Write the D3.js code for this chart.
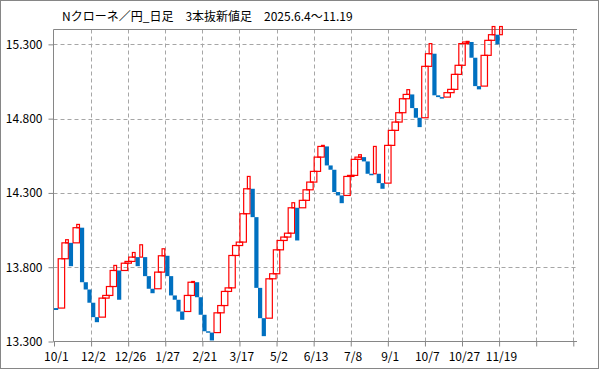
<!DOCTYPE html>
<html><head><meta charset="utf-8">
<script src="https://cdn.jsdelivr.net/npm/d3@7"></script>
<style>body{margin:0;background:#fff}svg{display:block}text{font-family:"Noto Sans CJK JP","Noto Sans",sans-serif}</style>
</head><body><div id="c"></div>
<script>
const title = "Nクローネ／円_日足　3本抜新値足　2025.6.4〜11.19";
const firstOpen = 13.525;
const closes = [13.512,13.857,13.964,13.985,13.807,14.066,14.088,13.699,13.650,13.561,
13.464,13.430,13.592,13.610,13.670,13.778,13.812,13.581,13.827,13.839,
13.868,13.899,13.807,13.951,13.740,13.655,13.625,13.767,13.877,13.924,
13.740,13.610,13.581,13.502,13.446,13.610,13.699,13.704,13.598,13.480,
13.369,13.360,13.307,13.493,13.542,13.637,13.661,13.879,13.946,13.969,
14.160,14.328,14.411,14.137,13.661,13.457,13.336,13.722,13.756,13.917,
13.980,14.003,14.029,14.200,14.234,13.980,14.250,14.321,14.373,14.445,
14.541,14.613,14.620,14.485,14.456,14.306,14.283,14.231,14.411,14.418,
14.526,14.541,14.557,14.512,14.429,14.425,14.613,14.366,14.328,14.620,
14.721,14.777,14.840,14.934,14.963,14.995,14.871,14.806,14.743,15.152,
15.237,15.305,14.957,14.945,14.941,14.975,14.997,15.098,15.159,15.305,
15.316,15.320,15.210,15.019,14.997,15.226,15.327,15.365,15.420,15.300,15.420];
const categoryCount = 141;
const dateLabels = ["10/1","12/2","12/26","1/27","2/21","3/17","5/2","6/13","7/8","9/1","10/7","10/27","11/19"];
const yTicks = [13.3,13.8,14.3,14.8,15.3];

const bars = [];
let prevOpen = firstOpen, prevClose = null, prevUp = null;
closes.forEach((c,i)=>{
  let open;
  if(i===0){ open = firstOpen; }
  else {
    const upMove = c > prevClose;
    open = (upMove === prevUp) ? prevClose : prevOpen;
  }
  const up = c > open;
  bars.push({i, open, close:c, up});
  prevOpen = open; prevClose = c; prevUp = up;
});
bars.forEach((d,i)=>{ d.nextUp = i+1<bars.length && bars[i+1].up; });

const W=599,H=369;
const svg=d3.select("#c").append("svg").attr("width",W).attr("height",H);
svg.append("rect").attr("x",0.5).attr("y",0.5).attr("width",W-1).attr("height",H-1)
  .attr("fill","#fff").attr("stroke","#868686");

const pL=53.5, pR=577, pT=29.5, pB=341.5;
const x=d3.scaleBand().domain(d3.range(categoryCount)).range([54,577]).padding(0);
const xb=d3.scaleLinear().domain([0,categoryCount]).range([54,577]);
const y=d3.scaleLinear().domain([13.3,15.4]).range([pB,pT]);
const step=x.bandwidth();

const g=svg.append("g");
g.selectAll("line.h").data(yTicks.filter(d=>d>13.3)).join("line")
  .attr("x1",pL).attr("x2",pR).attr("y1",d=>Math.round(y(d))+0.5).attr("y2",d=>Math.round(y(d))+0.5)
  .attr("stroke","#a6a6a6").attr("stroke-dasharray","4,3");
g.selectAll("line.v").data(d3.range(10,categoryCount,10)).join("line")
  .attr("x1",d=>Math.round(xb(d))+0.5).attr("x2",d=>Math.round(xb(d))+0.5).attr("y1",pT).attr("y2",pB)
  .attr("stroke","#a6a6a6").attr("stroke-dasharray","4,3");
svg.append("line").attr("x1",pL).attr("x2",pR).attr("y1",pT).attr("y2",pT).attr("stroke","#868686");

const ya=svg.append("g").attr("transform",`translate(${pL},0)`)
  .call(d3.axisLeft(y).tickValues(yTicks).tickFormat(d3.format(".3f")).tickSize(5).tickPadding(6));
ya.select(".domain").attr("stroke","#868686").attr("d",`M0,${pT}V${pB}`);
ya.selectAll(".tick line").attr("stroke","#868686");
ya.selectAll("text").attr("font-size",12).attr("fill","#000").style("font-family","'Noto Sans CJK JP'");

const xa=svg.append("g").attr("transform",`translate(0,${pB})`)
  .call(d3.axisBottom(xb).tickValues(d3.range(0,categoryCount,10))
    .tickFormat(d=>dateLabels[d/10]||"").tickSize(5).tickPadding(6));
xa.select(".domain").attr("stroke","#868686").attr("d",`M${pL},0H${pR}`);
xa.selectAll(".tick line").attr("stroke","#868686");
xa.selectAll("text").attr("font-size",12).attr("fill","#000").attr("dx",step/2).style("font-family","'Noto Sans CJK JP'");

// up bars: hollow red (overlap into the next column when the run continues); down bars: solid blue
const ups = bars.filter(d=>d.up), downs = bars.filter(d=>!d.up);
svg.append("g").selectAll("rect").data(ups).join("rect")
  .attr("x",d=>x(d.i)+0.5)
  .attr("width",d=>(d.nextUp?2:1)*step-1)
  .attr("y",d=>y(d.close))
  .attr("height",d=>Math.max(1,y(d.open)-y(d.close)))
  .attr("fill","none").attr("stroke","#ff0000").attr("stroke-width",1.2);
svg.append("g").selectAll("rect").data(downs).join("rect")
  .attr("x",d=>x(d.i))
  .attr("width",step+0.5)
  .attr("y",d=>y(d.open))
  .attr("height",d=>Math.max(1.5,y(d.close)-y(d.open)))
  .attr("fill","#0070c0");

svg.append("text").attr("x",62).attr("y",21).attr("font-size",12).attr("fill","#000").text(title);
</script></body></html>
